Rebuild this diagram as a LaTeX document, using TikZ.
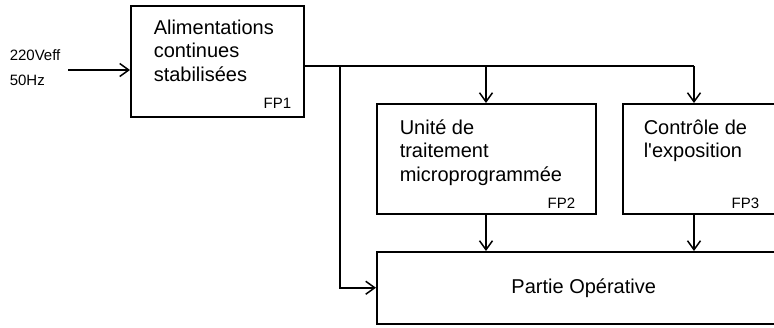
\documentclass[tikz,border=0pt]{standalone}
\usepackage{fontspec}
\setmainfont{Liberation Sans}
\usetikzlibrary{arrows.meta}

\begin{document}
\begin{tikzpicture}[x=1pt,y=-1pt,line width=1.5pt,
    bloc/.style={draw, inner sep=0pt, anchor=north west},
    texte/.style={inner sep=0pt, anchor=north west, align=left, font=\fontsize{20}{23.5}\selectfont},
    repere/.style={inner sep=0pt, anchor=base east, font=\fontsize{15}{18}\selectfont},
    fleche/.style={-{Straight Barb[length=9pt,width=13pt]}}]
    \useasboundingbox (0,0) rectangle (774,327);

    % Blocs fonctionnels
    \node[bloc, minimum width=173pt, minimum height=111pt] (fp1) at (130,5) {};
    \node[bloc, minimum width=219pt, minimum height=110pt] (fp2) at (376,103) {};
    \node[bloc, minimum width=158pt, minimum height=110pt] (fp3) at (622,103) {};
    \node[bloc, minimum width=414pt, minimum height=72pt] (po) at (376,251) {};

    % Textes des blocs
    \node[texte] (t1) at (153,19) {Alimentations\\continues\\stabilisées};
    \node[texte] (t2) at (399,119) {Unité de\\traitement\\microprogrammée};
    \node[texte] (t3) at (643,119) {Contrôle de\\l\textquotesingle exposition};
    \node[inner sep=0pt, font=\fontsize{20}{24}\selectfont] (t4) at (po.center) {Partie Opérative};

    % Repères FP
    \node[repere] (r1) at (292,108) {FP1};
    \node[repere] (r2) at (576,208) {FP2};
    \node[repere] (r3) at (760,208) {FP3};

    % Entrée secteur
    \node[repere, anchor=base west] (e1) at (9,60) {220Veff};
    \node[repere, anchor=base west] (e2) at (9,85) {50Hz};
    \coordinate (in) at (68,70);
    \draw[fleche] (in) -- (in -| fp1.west);

    % Distribution des alimentations
    \coordinate (j1) at (340,66);
    \coordinate (j2) at (486,66);
    \coordinate (j3) at (694,66);
    \draw (fp1.east |- j1) -- (j3);
    \draw[fleche] (j2) -- (j2 |- fp2.north);
    \draw[fleche] (j3) -- (j3 |- fp3.north);
    \draw[fleche] (j1) |- (po.west);

    % Vers la partie opérative
    \draw[fleche] (j2 |- fp2.south) -- (j2 |- po.north);
    \draw[fleche] (j3 |- fp3.south) -- (j3 |- po.north);
\end{tikzpicture}
\end{document}
